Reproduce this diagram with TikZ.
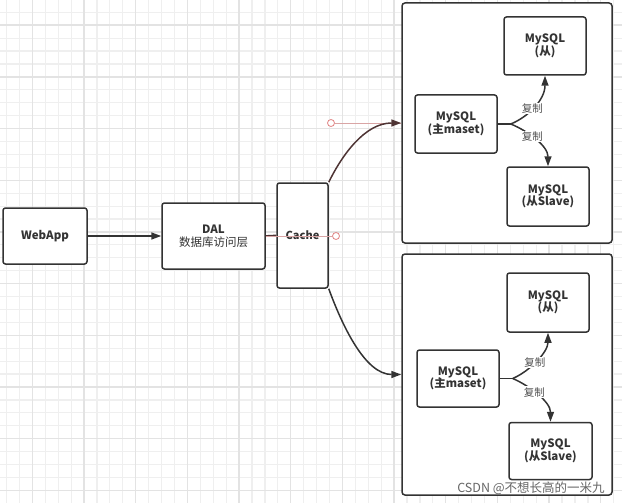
\documentclass[tikz,border=0pt]{standalone}
\usepackage{fontspec}
\setmainfont{Noto Sans CJK SC}
\usetikzlibrary{arrows.meta}

\definecolor{linec}{HTML}{333333}
\definecolor{selc}{HTML}{4E3434}
\definecolor{pinkc}{HTML}{D9A5A5}
\definecolor{gridmin}{HTML}{EFEFEF}
\definecolor{gridmaj}{HTML}{E3E3E3}

\tikzset{
  box/.style={draw=linec, line width=1.5pt, rounded corners=2.5pt, fill=white,
    inner sep=0pt, align=center, text=linec,
    font=\fontsize{11.5}{12.5}\selectfont\bfseries},
  group/.style={draw=linec, line width=1.5pt, rounded corners=3pt, fill=white, inner sep=0pt},
  arr/.style={draw=linec, line width=1.5pt, -{Triangle[length=10pt,width=7pt]}},
  selarr/.style={arr, draw=selc},
  copylbl/.style={fill=white, inner sep=0.8pt, text=linec!85,
    font=\fontsize{10.5}{11}\selectfont},
  pinkline/.style={draw=pinkc, line width=0.8pt},
  handle/.style={circle, draw=pinkc!80!red, line width=0.8pt, fill=white,
    minimum size=7pt, inner sep=0pt},
  gridminor/.style={draw=gridmin, line width=1.2pt},
  gridmajor/.style={draw=gridmaj, line width=1.4pt},
}

\begin{document}
\begin{tikzpicture}[x=1pt,y=-1pt]
  \useasboundingbox (0,0) rectangle (622,503);

  % background grid
  \foreach \i in {0,...,48} {
    \draw[gridminor] ({6.5+12.92*\i},0) -- ({6.5+12.92*\i},503);
  }
  \foreach \j in {0,...,39} {
    \draw[gridminor] (0,{12.3+12.92*\j}) -- (622,{12.3+12.92*\j});
  }
  \foreach \i in {0,...,11} {
    \draw[gridmajor] ({32.3+51.68*\i},0) -- ({32.3+51.68*\i},503);
  }
  \foreach \j in {0,...,9} {
    \draw[gridmajor] (0,{25.2+51.68*\j}) -- (622,{25.2+51.68*\j});
  }

  % main chain
  \node[box, minimum width=84pt, minimum height=56pt] (webapp) at (45,236) {WebApp};
  \node[box, minimum width=103pt, minimum height=66pt] (dal) at (213.5,236)
    {DAL\\{\mdseries 数据库访问层}};
  \node[box, minimum width=51pt, minimum height=105pt, font=\fontsize{11}{12}\selectfont\bfseries]
    (cache) at (302.5,235.5) {Cache};

  % two master/slave groups
  \node[group, minimum width=210pt, minimum height=240pt] (grpA) at (507,123) {};
  \node[group, minimum width=210pt, minimum height=241pt] (grpB) at (507,374.5) {};

  \node[box, minimum width=82pt, minimum height=58pt] (mA) at (456,124) {MySQL\\(主maset)};
  \node[box, minimum width=82pt, minimum height=58pt] (sA1) at (545,46) {MySQL\\(从)};
  \node[box, minimum width=82pt, minimum height=59pt] (sA2) at (548,196.5) {MySQL\\(从Slave)};

  \node[box, minimum width=82pt, minimum height=57pt] (mB) at (458,378.5) {MySQL\\(主maset)};
  \node[box, minimum width=82pt, minimum height=59pt] (sB1) at (548,302.5) {MySQL\\(从)};
  \node[box, minimum width=83pt, minimum height=57pt] (sB2) at (550.5,451) {MySQL\\(从Slave)};

  % connectors
  \draw[arr] (webapp) -- (dal);
  \draw[draw=selc, line width=1.8pt] (dal.east) -- (cache.west);

  \node[handle] (hA) at (331,123) {};
  \node[handle] (hB) at (336,236) {};
  \draw[pinkline] (hA) -- (grpA.west);
  \draw[pinkline] (dal.east) -- (hB);

  \draw[selarr] (cache.north east) .. controls (342,155) and (365,123) .. (grpA.west);
  \draw[arr] (cache.south east) .. controls (342,325) and (365,374.5) .. (grpB.west);

  % replication, upper group
  \draw[draw=linec, line width=1.5pt] (mA.east) -- ++(13,0) coordinate (fA);
  \draw[arr] (fA) .. controls (528,117) and (545,100) .. node[copylbl, pos=0.45] {复制} (sA1.south);
  \draw[arr] (fA) .. controls (528,131) and (548,146) .. node[copylbl, pos=0.42] {复制} (sA2.north);

  % replication, lower group
  \draw[draw=linec, line width=1.5pt] (mB.east) -- ++(13,0) coordinate (fB);
  \draw[arr] (fB) .. controls (530,371) and (548,352) .. node[copylbl, pos=0.45] {复制} (sB1.south);
  \draw[arr] (fB) .. controls (530,386) and (550.5,402) .. node[copylbl, pos=0.42] {复制} (sB2.north);

  % watermark
  \node[text=black!60, font=\fontsize{12.5}{13}\selectfont, inner sep=0pt] (wmark) at (531,488)
    {CSDN @不想长高的一米九};
\end{tikzpicture}
\end{document}
